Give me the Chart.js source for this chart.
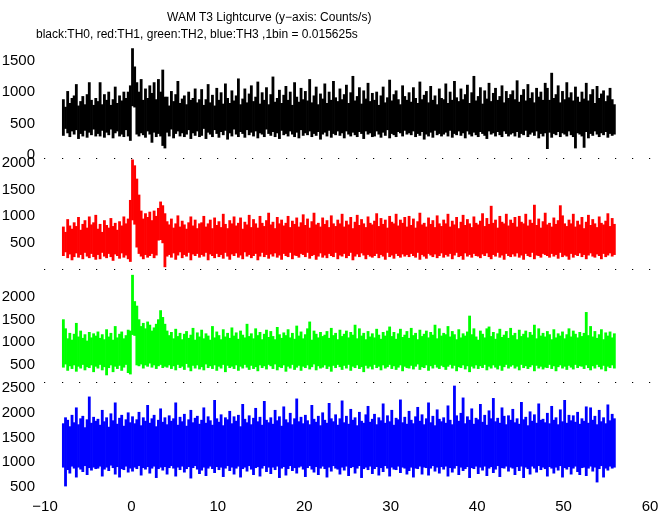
<!DOCTYPE html>
<html>
<head>
<meta charset="utf-8">
<script src="https://cdn.jsdelivr.net/npm/chart.js@4/dist/chart.umd.min.js"></script>
<style>
  html, body { margin: 0; padding: 0; background: #fff; }
  #wrap { position: relative; width: 672px; height: 515px; overflow: hidden; background: #fff; }
  canvas { position: absolute; left: 0; top: 0; }
  .txt { position: absolute; font-family: "Liberation Sans", Arial, sans-serif; font-size: 12px; line-height: 14px; color: #000; white-space: nowrap; }
</style>
</head>
<body>
<div id="wrap">
  <canvas id="c0" width="672" height="515"></canvas>
  <canvas id="c1" width="672" height="515"></canvas>
  <canvas id="c2" width="672" height="515"></canvas>
  <canvas id="c3" width="672" height="515"></canvas>
  <div class="txt" style="left:167px; top:10px;">WAM T3 Lightcurve (y&#8722;axis: Counts/s)</div>
  <div class="txt" style="left:36px; top:27px;">black:TH0, red:TH1, green:TH2, blue:TH3 ,1bin = 0.015625s</div>
</div>
<script>
// ---- time grid: 256 groups of 0.25 s (16 raw 0.015625 s bins each), from -8 s ----
const timeStart = -8;
const groupWidth = 0.25;

// ---- per-group maximum and minimum rates (Counts/s) ----
const th0High = [
  880, 760, 1010, 820, 900, 940, 1120, 780, 850, 930, 800, 960, 1150, 870, 790, 900,
  850, 1150, 800, 960, 870, 1000, 790, 880, 1080, 820, 940, 860, 1000, 900, 1000, 1100,
  1690, 1400, 1150, 1000, 1200, 870, 1050, 900, 1100, 980, 1150, 880, 1200, 1000, 1350, 920,
  920, 780, 1010, 850, 960, 1170, 820, 890, 940, 800, 1000, 870, 900, 1050, 830, 880,
  1040, 790, 880, 1120, 830, 950, 780, 1060, 870, 990, 810, 1130, 900, 820, 1020, 860,
  940, 1210, 800, 890, 1050, 830, 970, 1100, 850, 920, 1160, 810, 990, 870, 1070, 800,
  960, 1240, 840, 900, 1030, 820, 950, 1090, 870, 1000, 790, 1150, 920, 840, 1060, 880,
  1010, 860, 1200, 830, 940, 1080, 800, 970, 890, 1130, 820, 1000, 870, 1170, 910, 850,
  1050, 880, 960, 1110, 820, 990, 1250, 860, 930, 1070, 810, 1020, 890, 1140, 850, 980,
  870, 1000, 790, 940, 1080, 830, 910, 1190, 860, 960, 1020, 880, 800, 1100, 930, 870,
  990, 840, 1070, 900, 820, 1160, 880, 950, 1010, 830, 1090, 870, 940, 800, 1050, 900,
  880, 1130, 820, 1000, 870, 1170, 910, 850, 1050, 880, 960, 1110, 820, 990, 1250, 860,
  930, 1070, 810, 1020, 890, 1140, 850, 980, 1060, 870, 930, 1100, 830, 1010, 900, 960,
  1020, 880, 1180, 840, 950, 1040, 860, 1120, 900, 990, 830, 1060, 920, 1000, 870, 1140,
  1060, 870, 1300, 900, 960, 1100, 830, 1010, 880, 1150, 910, 990, 860, 1080, 920, 840,
  1000, 890, 1140, 860, 960, 1040, 820, 1090, 900, 970, 1020, 850, 940, 1060, 880, 800
];
const th0Low = [
  310, 420, 350, 290, 380, 330, 400, 260, 340, 300, 390, 280, 360, 320, 410, 300,
  340, 300, 390, 280, 360, 320, 410, 270, 350, 380, 300, 330, 290, 400, 300, 230,
  780, 760, 330, 300, 350, 320, 280, 380, 330, 200, 360, 290, 340, 300, 150, 110,
  360, 300, 410, 270, 340, 380, 300, 350, 290, 330, 400, 260, 350, 310, 380, 290,
  310, 420, 260, 360, 330, 290, 400, 340, 280, 370, 320, 390, 250, 350, 300, 410,
  330, 290, 370, 340, 280, 400, 320, 360, 300, 380, 270, 350, 330, 290, 410, 340,
  310, 370, 290, 350, 260, 390, 320, 340, 300, 380, 330, 290, 360, 270, 400, 310,
  350, 320, 380, 290, 340, 310, 370, 250, 330, 360, 300, 390, 280, 340, 320, 380,
  310, 350, 270, 380, 330, 300, 360, 320, 290, 370, 340, 260, 380, 330, 350, 290,
  300, 380, 330, 280, 360, 310, 400, 270, 340, 320, 290, 370, 350, 300, 390, 330,
  350, 320, 380, 290, 340, 310, 370, 250, 330, 300, 360, 280, 390, 320, 340, 300,
  330, 360, 300, 390, 280, 340, 320, 380, 310, 350, 270, 380, 330, 300, 360, 320,
  290, 370, 340, 310, 260, 380, 330, 350, 300, 370, 320, 290, 380, 340, 300, 330,
  350, 300, 370, 280, 340, 320, 390, 290, 330, 360, 310, 380, 270, 340, 300, 350,
  100, 360, 280, 340, 320, 370, 290, 350, 330, 300, 380, 320, 290, 110, 350, 330,
  300, 120, 370, 270, 340, 310, 380, 330, 290, 350, 320, 370, 280, 340, 310, 330
];
const th1High = [
  800, 700, 940, 820, 760, 880, 810, 980, 740, 850, 920, 780, 990, 840, 880, 1020,
  760, 850, 700, 920, 830, 780, 960, 810, 870, 740, 900, 820, 990, 860, 950, 1300,
  2060, 1950, 1700, 1400, 1100, 950, 1050, 980, 1080, 920, 1100, 1000, 1150, 1270, 1200, 1050,
  900, 840, 950, 780, 860, 1010, 800, 910, 840, 760, 880, 990, 820, 930, 770, 860,
  880, 1000, 800, 860, 930, 770, 970, 830, 900, 790, 1040, 850, 770, 920, 860, 990,
  820, 870, 970, 760, 890, 840, 1020, 790, 940, 860, 780, 1000, 870, 810, 920, 1060,
  840, 890, 770, 980, 860, 930, 820, 870, 1000, 790, 910, 850, 970, 800, 880, 1030,
  830, 950, 780, 900, 1060, 840, 870, 800, 970, 850, 920, 790, 1010, 860, 810, 930,
  860, 1040, 800, 910, 840, 980, 770, 890, 1020, 830, 940, 860, 790, 990, 870, 840,
  910, 1050, 810, 960, 850, 930, 780, 1000, 890, 860, 1040, 820, 930, 870, 980, 800,
  1000, 830, 950, 780, 900, 1060, 840, 870, 800, 970, 850, 920, 790, 1010, 860, 810,
  930, 860, 1040, 800, 910, 840, 980, 770, 890, 1020, 830, 940, 860, 790, 990, 870,
  840, 910, 1050, 810, 960, 850, 1190, 870, 930, 780, 1000, 890, 860, 1040, 820, 930,
  870, 980, 800, 1000, 890, 860, 1040, 820, 930, 870, 1210, 830, 950, 780, 900, 1060,
  840, 870, 800, 970, 850, 920, 1200, 1010, 860, 810, 930, 860, 1040, 800, 910, 840,
  980, 770, 890, 1020, 830, 940, 860, 790, 990, 870, 840, 910, 1050, 810, 960, 850
];
const th1Low = [
  260, 330, 220, 290, 180, 240, 310, 230, 280, 200, 320, 250, 220, 300, 240, 190,
  280, 200, 320, 250, 220, 300, 240, 170, 290, 260, 210, 310, 230, 270, 200, 150,
  930, 850, 420, 300, 250, 200, 280, 230, 260, 300, 220, 270, 550, 560, 500, 50,
  250, 280, 230, 310, 190, 270, 330, 220, 280, 250, 320, 180, 290, 260, 300, 230,
  280, 250, 320, 180, 290, 260, 220, 300, 240, 280, 210, 320, 250, 190, 290, 260,
  310, 230, 270, 200, 330, 250, 280, 220, 260, 300, 180, 250, 320, 240, 280, 210,
  290, 250, 310, 230, 270, 190, 300, 260, 240, 320, 200, 270, 260, 230, 300, 280,
  240, 320, 210, 260, 280, 190, 250, 310, 230, 270, 220, 300, 260, 240, 320, 200,
  270, 250, 300, 220, 260, 320, 180, 250, 290, 240, 310, 270, 200, 280, 250, 230,
  260, 300, 220, 280, 250, 190, 320, 240, 270, 210, 300, 260, 230, 290, 250, 280,
  240, 300, 260, 230, 320, 190, 280, 250, 210, 300, 270, 240, 290, 220, 260, 310,
  230, 280, 250, 300, 200, 270, 320, 240, 260, 190, 310, 250, 280, 230, 300, 260,
  250, 220, 290, 260, 310, 240, 200, 280, 250, 320, 230, 270, 190, 300, 260, 240,
  290, 250, 310, 230, 270, 190, 300, 260, 240, 320, 200, 270, 260, 230, 300, 280,
  260, 230, 300, 250, 280, 210, 320, 240, 270, 250, 190, 300, 230, 280, 260, 310,
  240, 280, 200, 270, 310, 250, 230, 290, 260, 200, 300, 240, 270, 310, 250, 280
];
const th2High = [
  1500, 1300, 1080, 1200, 1050, 1180, 1420, 1120, 1250, 1090, 1170, 1030, 1220, 1100, 1190, 1140,
  1230, 1090, 1170, 1060, 1280, 1120, 1200, 1050, 1350, 1100, 1180, 1230, 1080, 1150, 1270, 1250,
  2480, 1900, 1800, 1500, 1350, 1420, 1300, 1450, 1380, 1250, 1320, 1400, 1500, 1700, 1550, 1400,
  1250, 1150, 1220, 1080, 1290, 1130, 1200, 1060, 1180, 1240, 1090, 1160, 1310, 1050, 1210, 1120,
  1270, 1080, 1190, 1140, 1050, 1350, 1100, 1230, 1150, 1060, 1280, 1120, 1200, 1090, 1320, 1140,
  1210, 1070, 1250, 1160, 1100, 1400, 1130, 1190, 1080, 1300, 1150, 1220, 1060, 1180, 1270, 1110,
  1240, 1130, 1060, 1330, 1170, 1090, 1210, 1150, 1280, 1100, 1200, 1070, 1360, 1140, 1230, 1080,
  1170, 1300, 1450, 1050, 1250, 1180, 1100, 1220, 1130, 1160, 1240, 1090, 1310, 1150, 1200, 1060,
  1270, 1130, 1180, 1250, 1100, 1220, 1160, 1380, 1080, 1300, 1140, 1200, 1060, 1240, 1120, 1190,
  1100, 1290, 1160, 1070, 1220, 1140, 1250, 1340, 1130, 1220, 1070, 1190, 1290, 1110, 1160, 1240,
  1090, 1310, 1150, 1200, 1060, 1270, 1130, 1180, 1250, 1100, 1220, 1160, 1380, 1080, 1300, 1140,
  1200, 1170, 1350, 1120, 1240, 1170, 1060, 1280, 1100, 1190, 1140, 1230, 1580, 1170, 1300, 1120,
  1050, 1250, 1180, 1100, 1300, 1340, 1130, 1220, 1070, 1190, 1290, 1110, 1160, 1240, 1090, 1310,
  1150, 1200, 1060, 1270, 1130, 1180, 1250, 1100, 1220, 1160, 1380, 1080, 1300, 1140, 1200, 1120,
  1240, 1170, 1060, 1280, 1100, 1190, 1140, 1230, 1080, 1170, 1300, 1120, 1250, 1180, 1100, 1220,
  1130, 1200, 1660, 1150, 1350, 1120, 1240, 1090, 1170, 1280, 1060, 1210, 1140, 1230, 1100, 1190
];
const th2Low = [
  450, 520, 380, 480, 420, 500, 360, 470, 430, 510, 390, 460, 440, 500, 350, 470,
  430, 510, 390, 460, 280, 440, 500, 350, 470, 420, 490, 380, 450, 510, 330, 300,
  1170, 1150, 500, 480, 520, 430, 500, 470, 540, 450, 500, 420, 480, 510, 440, 470,
  450, 500, 420, 480, 390, 510, 440, 470, 400, 530, 450, 370, 490, 430, 500, 410,
  460, 390, 520, 440, 480, 420, 500, 380, 470, 430, 510, 350, 490, 440, 470, 420,
  500, 380, 470, 430, 510, 450, 400, 490, 420, 460, 370, 500, 440, 480, 410, 510,
  480, 420, 520, 390, 460, 440, 500, 360, 470, 430, 510, 400, 450, 490, 380, 470,
  440, 500, 410, 460, 520, 390, 480, 430, 450, 500, 420, 470, 360, 490, 440, 510,
  460, 400, 490, 430, 510, 380, 470, 440, 500, 420, 460, 350, 490, 430, 470, 410,
  510, 440, 470, 390, 500, 430, 460, 510, 420, 480, 400, 450, 500, 370, 470, 440,
  430, 490, 410, 470, 520, 400, 460, 440, 500, 380, 480, 430, 510, 450, 420, 490,
  460, 400, 470, 510, 430, 490, 370, 460, 440, 500, 410, 480, 350, 470, 430, 500,
  420, 480, 440, 510, 390, 470, 430, 500, 450, 410, 490, 380, 460, 510, 430, 470,
  500, 430, 470, 390, 510, 440, 480, 420, 460, 500, 370, 490, 430, 470, 410, 450,
  440, 510, 420, 480, 370, 460, 500, 430, 470, 400, 490, 450, 410, 510, 440, 480,
  470, 420, 500, 440, 390, 480, 430, 510, 460, 410, 490, 370, 470, 440, 500, 430
];
const th3High = [
  1780, 1900, 1850, 1720, 1950, 1800, 2100, 1760, 1880, 1930, 1700, 1860, 2320, 1790, 1910, 1830,
  1870, 1750, 2050, 1820, 1900, 1710, 1980, 1840, 2200, 1770, 1890, 1950, 1730, 1860, 2000, 1800,
  1920, 1780, 1860, 2010, 1740, 1900, 1830, 2150, 1790, 1880, 1950, 1720, 1850, 2080, 1810, 1900,
  1760, 1940, 1830, 1880, 2200, 1750, 1910, 1820, 1970, 1730, 1860, 2050, 1800, 1890, 1930, 1770,
  1850, 2100, 1790, 1920, 1840, 1750, 2250, 1880, 1810, 1960, 1740, 1900, 1860, 2030, 1780, 1920,
  1830, 1950, 1720, 2170, 1870, 1800, 1940, 1760, 1890, 2090, 1820, 1910, 1750, 2230, 1850, 1800,
  1900, 1770, 2050, 1840, 1920, 1730, 2120, 1860, 1800, 1990, 1760, 1880, 2280, 1820, 1910, 1780,
  1950, 1840, 1760, 2150, 1870, 1810, 1930, 1740, 2000, 1850, 1790, 2190, 1880, 1820, 1960, 1750,
  1880, 2240, 1800, 1930, 1770, 2070, 1850, 1900, 1740, 2010, 1830, 1790, 1960, 2130, 1810, 1870,
  1970, 1760, 1900, 1840, 2180, 1790, 1940, 1820, 2050, 1750, 1890, 1860, 2260, 1800, 1910, 1770,
  2030, 1850, 1780, 1920, 2110, 1830, 1960, 1760, 1880, 2200, 1800, 1930, 1740, 2060, 1870, 1820,
  1900, 1790, 2140, 1850, 1760, 2540, 1940, 1830, 1990, 2300, 1780, 1920, 1850, 2080, 1770, 1890,
  1860, 2170, 1810, 1950, 1750, 2040, 1880, 2290, 1820, 1890, 1790, 2100, 1930, 1760, 1940, 1850,
  2070, 1800, 1880, 1770, 2210, 1860, 1910, 1740, 2020, 1830, 1960, 1790, 2180, 1850, 1870, 1800,
  1990, 1780, 2130, 1850, 1900, 1760, 2060, 1820, 2250, 1790, 1950, 1840, 1940, 1810, 2010, 1770,
  1880, 1830, 2120, 1790, 2100, 1850, 1930, 1760, 2050, 1820, 1900, 1780, 2160, 1840, 1970, 1880
];
const th3Low = [
  900, 520, 850, 780, 920, 880, 700, 900, 860, 810, 930, 750, 890, 840, 900, 870,
  880, 920, 720, 860, 900, 830, 940, 890, 760, 910, 700, 870, 850, 920, 800, 880,
  820, 900, 870, 930, 740, 890, 860, 910, 780, 880, 920, 690, 870, 900, 840, 910,
  760, 890, 930, 880, 720, 900, 850, 920, 800, 870, 910, 680, 890, 930, 860, 770,
  840, 900, 730, 880, 920, 870, 790, 910, 850, 900, 710, 880, 930, 830, 900, 760,
  880, 920, 700, 870, 900, 820, 930, 860, 750, 890, 910, 720, 880, 930, 810, 900,
  770, 900, 850, 920, 690, 880, 910, 740, 870, 930, 830, 890, 780, 900, 920, 860,
  710, 890, 930, 860, 800, 910, 750, 880, 920, 870, 700, 900, 820, 930, 880, 860,
  760, 900, 840, 920, 730, 890, 910, 780, 880, 930, 690, 870, 900, 850, 920, 770,
  870, 910, 740, 890, 810, 930, 880, 720, 900, 860, 850, 920, 790, 900, 880, 760,
  830, 900, 700, 880, 870, 920, 760, 900, 890, 740, 880, 930, 820, 900, 780, 910,
  860, 920, 720, 890, 800, 880, 930, 750, 900, 830, 870, 910, 690, 890, 870, 920,
  770, 900, 840, 920, 730, 880, 910, 790, 860, 930, 710, 890, 880, 920, 820, 900,
  880, 750, 910, 830, 920, 690, 900, 870, 760, 920, 880, 800, 930, 850, 900, 870,
  720, 910, 880, 780, 900, 840, 930, 700, 890, 860, 910, 760, 880, 920, 810, 750,
  890, 900, 730, 880, 920, 820, 900, 600, 870, 930, 700, 880, 840, 920, 880, 900
];

// ---- axis ticks ----
const xTickValues = [-10, 0, 10, 20, 30, 40, 50, 60];
const yTicksTH0 = [0, 500, 1000, 1500];
const yTicksTH1 = [500, 1000, 1500, 2000];
const yTicksTH2 = [500, 1000, 1500, 2000];
const yTicksTH3 = [500, 1000, 1500, 2000, 2500];

const FONT = '"Liberation Sans", Arial, sans-serif';

function toRanges(lows, highs) {
  return highs.map((h, i) => ({ x: timeStart + (i + 0.5) * groupWidth, y: [lows[i], h] }));
}

function makePanel(id, lows, highs, color, yMin, yMax, yTicks, top, bottom, isBottom) {
  const ctx = document.getElementById(id).getContext('2d');
  return new Chart(ctx, {
    type: 'bar',
    data: {
      datasets: [{
        data: toRanges(lows, highs),
        backgroundColor: color,
        borderWidth: 0,
        borderSkipped: false,
        barPercentage: 1.0,
        categoryPercentage: 1.0
      }]
    },
    options: {
      responsive: false,
      animation: false,
      devicePixelRatio: 1,
      events: [],
      layout: { padding: { top: top, left: 0, right: 22, bottom: isBottom ? 0 : 515 - bottom } },
      plugins: { legend: { display: false }, tooltip: { enabled: false }, title: { display: false } },
      scales: {
        x: {
          type: 'linear',
          min: -10, max: 60,
          offset: false,
          afterBuildTicks: (s) => {
            const t = [];
            for (let v = -10; v <= 60; v += 2) t.push({ value: v });
            s.ticks = t;
          },
          afterFit: (s) => { s.height = isBottom ? 23 : 0; },
          border: { display: false },
          grid: {
            display: !isBottom,
            offset: false,
            drawOnChartArea: false,
            drawTicks: !isBottom,
            tickLength: 1,
            color: '#000',
            lineWidth: 1.2
          },
          ticks: {
            display: isBottom,
            autoSkip: false,
            maxRotation: 0,
            padding: 6,
            color: '#000',
            font: { family: FONT, size: 15 },
            callback: (v) => xTickValues.includes(v) ? (v < 0 ? '\u2212' + Math.abs(v) : String(v)) : ''
          }
        },
        y: {
          type: 'linear',
          min: yMin, max: yMax,
          afterBuildTicks: (s) => { s.ticks = yTicks.map(v => ({ value: v })); },
          afterFit: (s) => { s.width = 45; },
          border: { display: false },
          grid: { display: false, drawTicks: false },
          ticks: {
            autoSkip: false,
            padding: 10,
            color: '#000',
            font: { family: FONT, size: 15 },
            callback: (v) => String(v)
          }
        }
      }
    }
  });
}

makePanel('c0', th0Low, th0High, '#000000', -48, 1715, yTicksTH0, 47, 158, false);
makePanel('c1', th1Low, th1High, '#ff0000', 10, 2094, yTicksTH1, 158, 269, false);
makePanel('c2', th2Low, th2High, '#00ff00', 125, 2550, yTicksTH2, 272, 382, false);
makePanel('c3', th3Low, th3High, '#0000ff', 400, 2580, yTicksTH3, 384, 492, true);
</script>
</body>
</html>
